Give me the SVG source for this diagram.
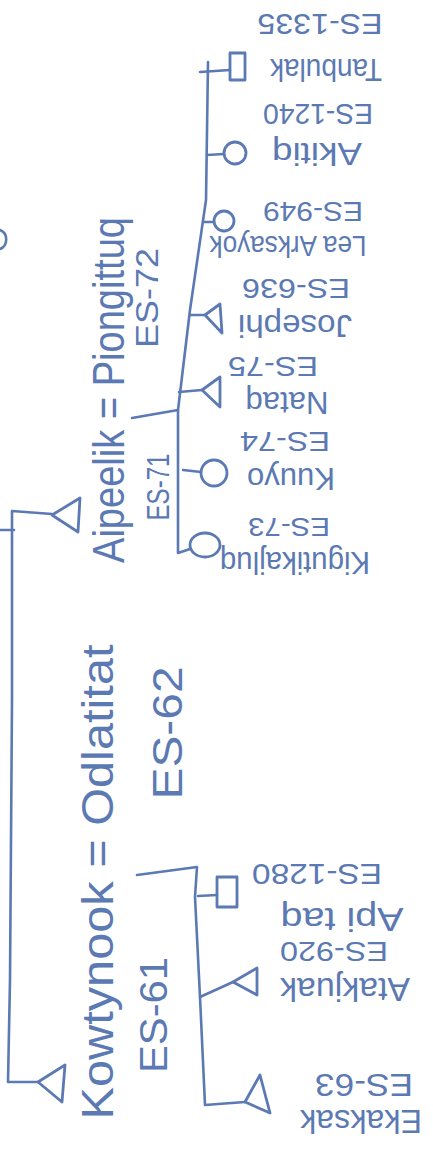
<svg xmlns="http://www.w3.org/2000/svg" width="433" height="1154" viewBox="0 0 433 1154">
<style>
.ln{fill:none;stroke:#5b79b3;stroke-width:2.6;stroke-linecap:round;stroke-linejoin:round}
.sh{fill:none;stroke:#5b79b3;stroke-width:2.8;stroke-linejoin:round}
.t{fill:#5b79b3;font-family:"Liberation Sans","DejaVu Sans",sans-serif;text-anchor:middle;dominant-baseline:central}
</style>
<rect width="433" height="1154" fill="#ffffff"/>
<g id="connectors">
<path class="ln" d="M52,514 L12,511 L12,700 L10,980 L8,1082 L38,1082"/>
<path class="ln" d="M0,530 L14,530"/>
<path class="ln" d="M132,418 L178,410"/>
<path class="ln" d="M208,62 L206,200 L190,310 L178,410 L178,553 L190,549"/>
<path class="ln" d="M200,72 L230,70"/>
<path class="ln" d="M207,155 L224,154"/>
<path class="ln" d="M204,222 L214,222"/>
<path class="ln" d="M190,315 L205,315"/>
<path class="ln" d="M179,392 L202,390"/>
<path class="ln" d="M183,470 L201,472"/>
<path class="ln" d="M137,875 L197,867 L195,897 L200,997 L205,1105 L245,1102"/>
<path class="ln" d="M198,896 L217,895"/>
<path class="ln" d="M200,997 L233,982"/>
</g>
<g id="edge-fragment"><path class="ln" d="M0,230 A9,10 0 0 1 0,249"/></g>
<g id="n-aipeelik">
<polygon class="sh" points="52,515 80,498 78,532"/>
<text class="t" font-size="44" transform="translate(108,390) rotate(-90)" textLength="346" lengthAdjust="spacingAndGlyphs">Aipeelik = Piongittuq</text>
<text class="t" font-size="32" transform="translate(158,487) rotate(-90)" textLength="67" lengthAdjust="spacingAndGlyphs">ES-71</text>
<text class="t" font-size="32" transform="translate(147,298) rotate(-90)" textLength="100" lengthAdjust="spacingAndGlyphs">ES-72</text>
</g>
<g id="n-kowtynook">
<polygon class="sh" points="38,1082 65,1065 62,1102"/>
<text class="t" font-size="44" transform="translate(97,882) rotate(-90)" textLength="475" lengthAdjust="spacingAndGlyphs">Kowtynook = Odlatitat</text>
<text class="t" font-size="38" transform="translate(154,1015) rotate(-90)" textLength="116" lengthAdjust="spacingAndGlyphs">ES-61</text>
<text class="t" font-size="42" transform="translate(167,733) rotate(-90)" textLength="133" lengthAdjust="spacingAndGlyphs">ES-62</text>
</g>
<g id="n-tanbulak">
<rect class="sh" x="230" y="53" width="15" height="27"/>
<text class="t" font-size="30" transform="translate(320,24) rotate(180)" textLength="125" lengthAdjust="spacingAndGlyphs">ES-1335</text>
<text class="t" font-size="32" transform="translate(326,70) rotate(180)" textLength="112" lengthAdjust="spacingAndGlyphs">Tanbulak</text>
</g>
<g id="n-akitiq">
<circle class="sh" cx="235" cy="153" r="11"/>
<text class="t" font-size="30" transform="translate(318,114) rotate(180)" textLength="110" lengthAdjust="spacingAndGlyphs">ES-1240</text>
<text class="t" font-size="32" transform="translate(317,154) rotate(180)" textLength="90" lengthAdjust="spacingAndGlyphs">Akitiq</text>
</g>
<g id="n-lea">
<circle class="sh" cx="224" cy="221" r="10"/>
<text class="t" font-size="28" transform="translate(313,211) rotate(180)" textLength="100" lengthAdjust="spacingAndGlyphs">ES-949</text>
<text class="t" font-size="30" transform="translate(288,246) rotate(180)" textLength="157" lengthAdjust="spacingAndGlyphs">Lea Arksayok</text>
</g>
<g id="n-josephi">
<polygon class="sh" points="205,315 220,304 222,333"/>
<text class="t" font-size="28" transform="translate(296,288) rotate(180)" textLength="108" lengthAdjust="spacingAndGlyphs">ES-636</text>
<text class="t" font-size="32" transform="translate(295,326) rotate(180)" textLength="114" lengthAdjust="spacingAndGlyphs">Josephi</text>
</g>
<g id="n-nataq">
<polygon class="sh" points="202,390 220,377 220,407"/>
<text class="t" font-size="28" transform="translate(273,366) rotate(180)" textLength="90" lengthAdjust="spacingAndGlyphs">ES-75</text>
<text class="t" font-size="32" transform="translate(287,403) rotate(180)" textLength="83" lengthAdjust="spacingAndGlyphs">Nataq</text>
</g>
<g id="n-kuuyo">
<circle class="sh" cx="214" cy="473" r="13"/>
<text class="t" font-size="28" transform="translate(285,441) rotate(180)" textLength="90" lengthAdjust="spacingAndGlyphs">ES-74</text>
<text class="t" font-size="32" transform="translate(291,479) rotate(180)" textLength="88" lengthAdjust="spacingAndGlyphs">Kuuyo</text>
</g>
<g id="n-kigutikajluq">
<ellipse class="sh" cx="205" cy="545" rx="15" ry="12"/>
<text class="t" font-size="26" transform="translate(289,527) rotate(180)" textLength="82" lengthAdjust="spacingAndGlyphs">ES-73</text>
<text class="t" font-size="32" transform="translate(295,563) rotate(180)" textLength="150" lengthAdjust="spacingAndGlyphs">Kigutikajluq</text>
</g>
<g id="n-es1280">
<rect class="sh" x="217" y="877" width="20" height="30"/>
<text class="t" font-size="30" transform="translate(317,874) rotate(180)" textLength="130" lengthAdjust="spacingAndGlyphs">ES-1280</text>
<text class="t" font-size="34" transform="translate(342,920) rotate(180)" textLength="123" lengthAdjust="spacingAndGlyphs">Api taq</text>
</g>
<g id="n-atakjuak">
<polygon class="sh" points="233,982 257,968 257,995"/>
<text class="t" font-size="28" transform="translate(334,951) rotate(180)" textLength="108" lengthAdjust="spacingAndGlyphs">ES-920</text>
<text class="t" font-size="34" transform="translate(345,990) rotate(180)" textLength="130" lengthAdjust="spacingAndGlyphs">Atakjuak</text>
</g>
<g id="n-ekaksak">
<polygon class="sh" points="245,1102 260,1075 270,1113"/>
<text class="t" font-size="32" transform="translate(364,1085) rotate(180)" textLength="98" lengthAdjust="spacingAndGlyphs">ES-63</text>
<text class="t" font-size="34" transform="translate(361,1122) rotate(180)" textLength="122" lengthAdjust="spacingAndGlyphs">Ekaksak</text>
</g>
</svg>
